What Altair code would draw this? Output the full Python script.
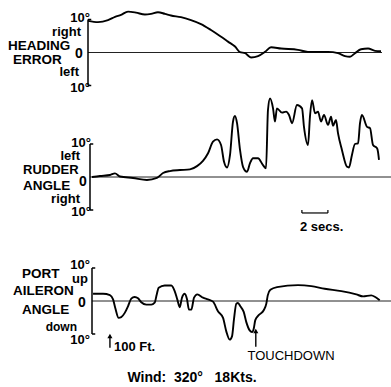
import altair as alt
import pandas as pd

# Heading error trace: time (s) from the axis, angle in degrees (+ = right)
heading_t = [0, 0.77, 1.54, 2.08, 2.54, 3.08, 3.69, 4.38, 4.85, 5.38,
             5.92, 6.38, 7.15, 7.92, 8.69, 9.46, 10.15, 10.77, 11.31, 11.69,
             12.08, 12.54, 13.08, 13.62, 14.08, 14.85, 16.15, 16.92, 18.46, 19.23,
             19.77, 20.15, 20.54, 21.0, 21.54, 22.08, 22.54]
heading_deg = [9.6, 9.2, 9.8, 10.8, 11.4, 12.4, 12.1, 11.5, 11.7, 12.2,
               11.7, 11.2, 10.7, 9.8, 8.6, 6.8, 5.0, 3.3, 1.8, 0.1,
               -0.2, -1.5, -1.1, 0.2, 1.6, 1.2, 0.8, 0.2, 0.2, -0.2,
               -1.1, -1.3, -0.2, 1.0, 1.2, 0.5, 0.4]

# Rudder angle trace (+ = left)
rudder_t = [0.15, 0.77, 1.54, 1.92, 2.31, 3.31, 4.38, 5.15, 5.62, 6.15,
            6.92, 7.69, 8.23, 8.69, 9.08, 9.46, 9.77, 10.08, 10.31, 10.54,
            10.77, 11.0, 11.15, 11.31, 11.54, 11.77, 12.08, 12.31, 12.54, 12.92,
            13.31, 13.54, 13.69, 13.85, 14.08, 14.23, 14.38, 14.77, 15.08, 15.31,
            15.54, 15.92, 16.31, 16.46, 16.77, 16.92, 17.08, 17.31, 17.54, 17.77,
            18.0, 18.31, 18.54, 18.69, 18.92, 19.08, 19.38, 19.77, 19.92, 20.15,
            20.38, 20.62, 20.77, 20.92, 21.31, 21.54, 21.77, 22.08, 22.15, 22.23]
rudder_deg = [0, 0.3, 0.6, 1.1, 0.15, -0.3, -0.9, -0.3, 1.2, 1.8,
              2.1, 2.3, 3.3, 4.9, 7.2, 10.7, 11.4, 9.7, 4.6, 2.9,
              6.7, 16.8, 18.5, 16.3, 8.2, 3.1, 1.6, 4.2, 5.7, 5.7,
              3.6, 2.6, 20.3, 23.8, 20.8, 16.8, 20.8, 19.5, 19.8, 18.8,
              16.3, 21.8, 20.8, 15.2, 9.7, 18.3, 23.3, 19.3, 19.8, 16.8,
              18.8, 15.8, 18.3, 15.5, 17.3, 13.2, 8.2, 3.1, 2.9, 6.7,
              10.0, 10.2, 16.3, 18.8, 15.2, 14.8, 9.7, 8.7, 7.7, 5.2]

# Port aileron angle trace (+ = up)
aileron_t = [0.08, 0.85, 1.38, 1.62, 1.79, 2.05, 2.25, 2.52, 2.77, 3.02,
             3.28, 3.54, 3.79, 4.18, 4.56, 4.82, 4.98, 5.13, 5.59, 6.1,
             6.36, 6.56, 6.75, 6.92, 7.13, 7.31, 7.46, 7.64, 7.85, 8.1,
             8.54, 8.92, 9.31, 9.69, 10.08, 10.33, 10.59, 10.77, 10.92, 11.1,
             11.23, 11.41, 11.67, 11.87, 12.13, 12.31, 12.44, 12.56, 12.82, 13.21,
             13.41, 13.52, 13.72, 14.23, 15.85, 16.87, 17.9, 19.18, 20.33, 20.85,
             21.48, 21.79, 22.13]
aileron_deg = [2.2, 2.2, 1.8, 0.5, -2.1, -5.1, -4.9, -3.6, -1.6, 0.7,
               1.2, 0.8, -0.4, -1.1, -1.1, -0.5, 2.0, 4.0, 4.7, 4.7,
               3.0, 0.5, -1.9, 1.0, 2.2, 0.5, -2.6, -2.6, 1.0, 2.0,
               1.0, 0.5, -0.2, -3.1, -5.1, -9.2, -11.7, -10.7, -5.6, -0.8,
               -0.6, -1.6, -3.3, -6.4, -8.9, -9.4, -8.4, -5.8, -4.3, -2.8,
               -0.8, 1.7, 3.4, 4.2, 4.8, 4.5, 3.7, 3.0, 2.0, 1.4,
               1.7, 1.2, 0.2]

# Event markers on the aileron trace (s)
event_100ft = 1.38
event_touchdown = 12.6

FONT = "Liberation Sans"
LEFT = 88          # px left of the plot area
WIDTH = 303
HEIGHT = 387
SEC_PX = 13.0      # px per second
DEG_PX = 3.3       # px per degree
NBSP = "\u00a0"


def scales(axis_px, zero_px):
    """Per-trace scales: t=0 at axis_px, 0 deg at zero_px (page pixels)."""
    xs = alt.Scale(domain=[(LEFT - axis_px) / SEC_PX, (LEFT + WIDTH - axis_px) / SEC_PX],
                   nice=False, zero=False)
    ys = alt.Scale(domain=[-(HEIGHT - zero_px) / DEG_PX, zero_px / DEG_PX],
                   nice=False, zero=False)
    return xs, ys


def rule(xs, ys, x, x2, y, y2, width=1.0, color="black"):
    df = pd.DataFrame({"x": [x], "x2": [x2], "y": [y], "y2": [y2]})
    return alt.Chart(df).mark_rule(color=color, strokeWidth=width).encode(
        x=alt.X("x:Q", scale=xs, axis=None), x2="x2:Q",
        y=alt.Y("y:Q", scale=ys, axis=None), y2="y2:Q")


def trace(xs, ys, t, deg):
    df = pd.DataFrame({"t": t, "deg": deg})
    return alt.Chart(df).mark_line(color="black", strokeWidth=1.9,
                                   interpolate="monotone").encode(
        x=alt.X("t:Q", scale=xs, axis=None),
        y=alt.Y("deg:Q", scale=ys, axis=None))


def label(text, ax, ay, align="left", size=14, weight="bold"):
    return alt.Chart(pd.DataFrame({"s": [text]})).mark_text(
        align=align, baseline="middle", font=FONT, fontSize=size,
        fontWeight=weight, color="black", x=ax - LEFT, y=ay).encode(text="s:N")


def arrow(xs, ys, t, tip, tail):
    shaft = rule(xs, ys, t, t, tail, tip - 0.8, width=1.4)
    head = alt.Chart(pd.DataFrame({"x": [t], "y": [tip - 0.9]})).mark_point(
        shape="triangle-up", filled=True, size=26, color="black", opacity=1).encode(
        x=alt.X("x:Q", scale=xs, axis=None), y=alt.Y("y:Q", scale=ys, axis=None))
    return [shaft, head]


def frame(xs, ys, zero_end):
    return [
        rule(xs, ys, 0, zero_end, 0, 0, width=1.0, color="#222"),
        rule(xs, ys, 0, 0, -10, 10, width=1.5),
        rule(xs, ys, 0, 0.25, 10, 10, width=1.5),
        rule(xs, ys, 0, 0.25, -10, -10, width=1.5),
    ]


# --- heading error ---
xs1, ys1 = scales(88, 52.5)
p1 = alt.layer(
    *frame(xs1, ys1, (382 - 88) / SEC_PX),
    trace(xs1, ys1, heading_t, heading_deg),
)

# --- rudder angle ---
xs2, ys2 = scales(90, 177)
p2 = alt.layer(
    *frame(xs2, ys2, xs2.domain[1]),
    trace(xs2, ys2, rudder_t, rudder_deg),
    # 2-second scale bar
    rule(xs2, ys2, 16.3, 18.3, -10.9, -10.9, width=1.2),
    rule(xs2, ys2, 16.3, 16.3, -10.9, -10.0, width=1.2),
    rule(xs2, ys2, 18.3, 18.3, -10.9, -10.0, width=1.2),
)

# --- port aileron angle ---
xs3, ys3 = scales(92, 301)
p3 = alt.layer(
    *frame(xs3, ys3, xs3.domain[1]),
    trace(xs3, ys3, aileron_t, aileron_deg),
    *arrow(xs3, ys3, event_100ft, -9.7, -14.2),
    *arrow(xs3, ys3, event_touchdown, -8.2, -13.9),
)

wind_text = f"Wind:{NBSP*2}320°{NBSP*3}18Kts."

texts = alt.layer(
    label("10°", 90, 18, align="right", size=13),
    label("right", 81, 32, align="right", size=13),
    label("HEADING", 8, 46, size=13.5),
    label("ERROR", 13, 60, size=13.5),
    label("0", 79, 54, align="center"),
    label("left", 79, 72, align="right", size=13),
    label("10°", 90, 88, align="right", size=13),

    label("2 secs.", 300, 227, size=13),
    label("10°", 91, 143, align="right", size=13),
    label("left", 80, 156, align="right", size=13),
    label("RUDDER", 23, 170, size=13),
    label("0", 83, 182, align="center"),
    label("ANGLE", 23, 186, size=13.5),
    label("right", 80, 199, align="right", size=13),
    label("10°", 91, 212, align="right", size=13),

    label("100 Ft.", 114, 347, size=13),
    label("TOUCHDOWN", 291, 356, align="center", size=13, weight="normal"),
    label(wind_text, 192, 378, align="center", size=14),
    label("PORT", 22, 274, size=13.5),
    label("10°", 90, 265, align="right", size=13),
    label("up", 88, 279, align="right", size=13),
    label("AILERON", 13, 291, size=13.5),
    label("0", 82, 303, align="center"),
    label("ANGLE", 22, 310, size=13.5),
    label("down", 77, 327, align="right", size=12),
    label("10°", 90, 340, align="right", size=13),
)

chart = alt.layer(p1, p2, p3, texts).resolve_scale(
    x="independent", y="independent"
).properties(
    width=WIDTH, height=HEIGHT,
    padding={"left": LEFT, "top": 0, "right": 0, "bottom": 0},
    autosize=alt.AutoSizeParams(type="none"),
    background="white",
).configure_view(stroke=None)

chart.save("out.html", embed_options={"renderer": "svg", "actions": False})
